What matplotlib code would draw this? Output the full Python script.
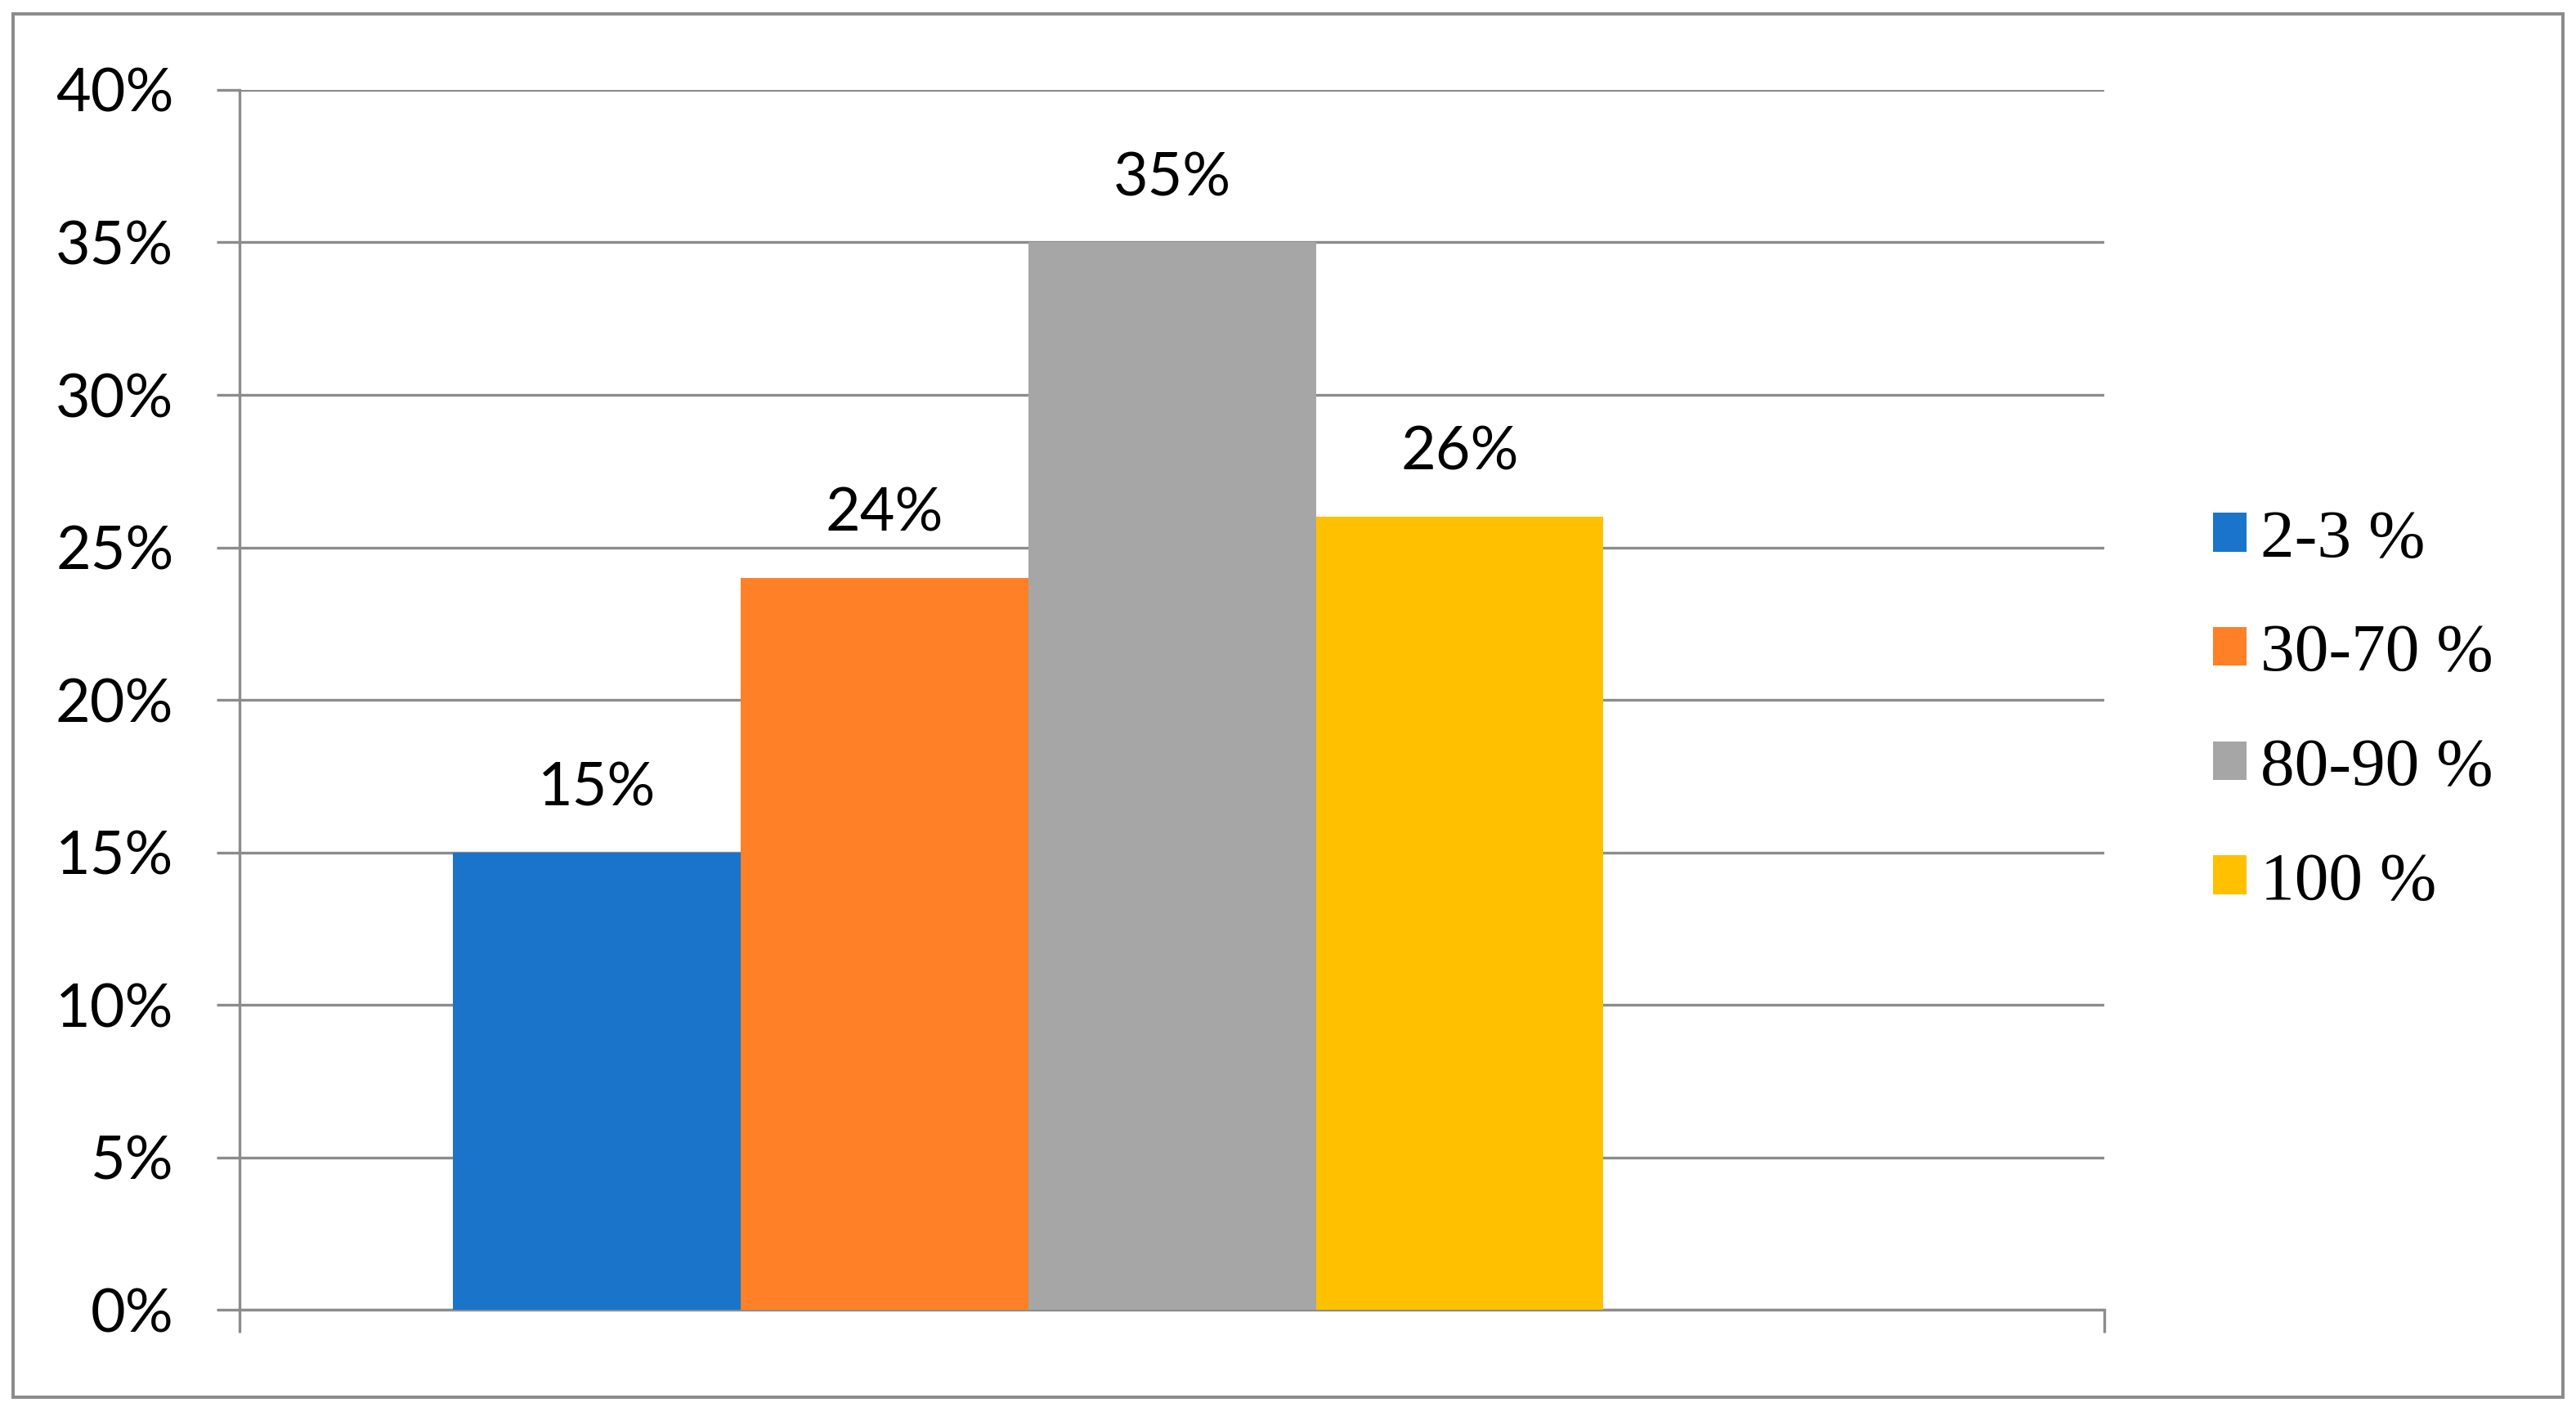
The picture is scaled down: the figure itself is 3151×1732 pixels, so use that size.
import matplotlib
matplotlib.use("Agg")
import matplotlib.pyplot as plt
import numpy as np
from matplotlib.ticker import PercentFormatter
from matplotlib.patches import Rectangle

#?_Data
series_labels = ["2-3 %", "30-70 %", "80-90 %", "100 %"]
values = [15, 24, 35, 26]
colors = ["#1A74C9", "#FF8027", "#A6A6A6", "#FFC000"]
yticks = [0, 5, 10, 15, 20, 25, 30, 35, 40]

grid_gray = "#8C8C8C"

fig = plt.figure(figsize=(15.755, 8.66), dpi=200)
ax = fig.add_axes([0.093, 0.075, 0.724, 0.8615])

x = np.arange(len(values))
for i in range(len(values)):
    bars = ax.bar(x[i], values[i], width=1.0, color=colors[i],
                  label=series_labels[i], zorder=3)
    ax.bar_label(bars, fmt="%d%%", padding=16, fontsize=26.5,
                 family="Lato", color="black")

ax.set_xlim(-1.243, 5.243)
ax.set_ylim(0, 40)
ax.set_yticks(yticks)
ax.yaxis.set_major_formatter(PercentFormatter(decimals=0))
ax.set_xticks([-1.243, 5.243])
ax.set_xticklabels(["", ""])

ax.grid(axis="y", color=grid_gray, linewidth=1.2, zorder=0)
ax.set_axisbelow(True)
for s in ["top", "right"]:
    ax.spines[s].set_visible(False)
for s in ["left", "bottom"]:
    ax.spines[s].set_color(grid_gray)
    ax.spines[s].set_linewidth(1.2)
ax.tick_params(axis="both", direction="out", length=10, width=1.2,
               color=grid_gray)
ax.tick_params(axis="y", pad=19, labelsize=26.5)
for lbl in ax.get_yticklabels():
    lbl.set_family("Lato")

leg = fig.legend(loc="center left", bbox_to_anchor=(0.859, 0.4975),
                 frameon=False, prop={"family": "Liberation Serif", "size": 30},
                 handlelength=0.5, handleheight=0.5, handletextpad=0.2,
                 labelspacing=0.77, borderpad=0, borderaxespad=0)

# outer chart border
fig.patches.append(Rectangle((0.005, 0.0133), 0.99, 0.977, transform=fig.transFigure,
                             fill=False, edgecolor=grid_gray, linewidth=1.44))

fig.savefig("out.png", dpi=200)
